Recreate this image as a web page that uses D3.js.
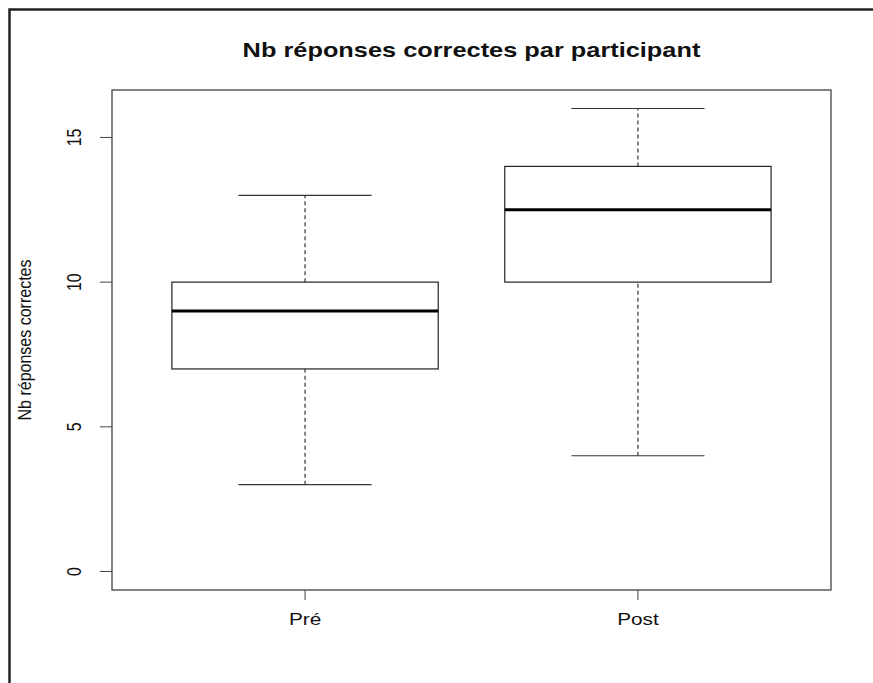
<!DOCTYPE html>
<html>
<head>
<meta charset="utf-8">
<script src="https://cdn.jsdelivr.net/npm/d3@7"></script>
<style>
  body { margin: 0; background: #fff; overflow: hidden; }
  svg { display: block; }
  text { font-family: "Liberation Sans", Arial, sans-serif; fill: #111; }
</style>
</head>
<body>
<svg id="chart"></svg>
<script>
let W = 873, H = 683;

// box stats
let groups = ["Pré", "Post"];
let lowWhisker = [3, 4];
let q1 = [7, 10];
let median = [9, 12.5];
let q3 = [10, 14];
let highWhisker = [13, 16];
let yTicks = [0, 5, 10, 15];

let title = "Nb réponses correctes par participant";
let yLabel = "Nb réponses correctes";

// text in the picture is stretched sideways
let sx = 1.3;

let svg = d3.select("#chart")
  .attr("width", W)
  .attr("height", H);

// plot region
let plotLeft = 112, plotRight = 831, plotTop = 90, plotBottom = 590;

let xscale = d3.scaleLinear()
  .domain([0.42, 2.58])
  .range([plotLeft, plotRight]);
let yscale = d3.scaleLinear()
  .domain([-0.64, 16.64])
  .range([plotBottom, plotTop]);

// outer frame, open at right and bottom
svg.append("path")
  .attr("d", `M9.5,${H} L9.5,9.5 L${W},9.5`)
  .attr("fill", "none")
  .attr("stroke", "#222")
  .attr("stroke-width", 2.5);

svg.append("rect")
  .attr("x", plotLeft).attr("y", plotTop)
  .attr("width", plotRight - plotLeft).attr("height", plotBottom - plotTop)
  .attr("fill", "none")
  .attr("stroke", "#333")
  .attr("stroke-width", 1.2);

let g = svg.append("g");
let ink = "#222";
groups.forEach((name, i) => {
  let cx = xscale(i + 1);
  let hw = xscale(i + 1.4) - cx;
  let cw = xscale(i + 1.2) - cx;
  // whiskers
  [[lowWhisker[i], q1[i]], [q3[i], highWhisker[i]]].forEach(([a, b]) => {
    g.append("line")
      .attr("x1", cx).attr("x2", cx)
      .attr("y1", yscale(a)).attr("y2", yscale(b))
      .attr("stroke", "#333").attr("stroke-width", 1.2)
      .attr("stroke-dasharray", "4,3");
  });
  [lowWhisker[i], highWhisker[i]].forEach(v => {
    g.append("line")
      .attr("x1", cx - cw).attr("x2", cx + cw)
      .attr("y1", yscale(v)).attr("y2", yscale(v))
      .attr("stroke", "#333").attr("stroke-width", 1.2);
  });
  g.append("rect")
    .attr("x", cx - hw).attr("y", yscale(q3[i]))
    .attr("width", 2 * hw).attr("height", yscale(q1[i]) - yscale(q3[i]))
    .attr("fill", "none").attr("stroke", ink).attr("stroke-width", 1.2);
  g.append("line")
    .attr("x1", cx - hw).attr("x2", cx + hw)
    .attr("y1", yscale(median[i])).attr("y2", yscale(median[i]))
    .attr("stroke", "#000").attr("stroke-width", 3);
});

// x axis: ticks and labels only
let xAxis = svg.append("g");
groups.forEach((name, i) => {
  let x = xscale(i + 1);
  xAxis.append("line")
    .attr("x1", x).attr("x2", x).attr("y1", plotBottom).attr("y2", plotBottom + 10)
    .attr("stroke", "#444");
  xAxis.append("text")
    .attr("transform", `translate(${x},625) scale(${sx},1)`)
    .attr("text-anchor", "middle")
    .attr("font-size", 16)
    .text(name);
});

let yAxis = svg.append("g");
yTicks.forEach(v => {
  let y = yscale(v);
  yAxis.append("line")
    .attr("x1", plotLeft - 12).attr("x2", plotLeft).attr("y1", y).attr("y2", y)
    .attr("stroke", "#444");
  yAxis.append("text")
    .attr("transform", `translate(81,${y}) scale(${sx},1) rotate(-90)`)
    .attr("text-anchor", "middle")
    .attr("font-size", 16)
    .text(v);
});

svg.append("text")
  .attr("transform", `translate(31,${(plotTop + plotBottom) / 2}) scale(${sx * 0.85},1) rotate(-90)`)
  .attr("text-anchor", "middle")
  .attr("font-size", 16)
  .text(yLabel);

svg.append("text")
  .attr("transform", `translate(${(plotLeft + plotRight) / 2},57) scale(${sx},1)`)
  .attr("text-anchor", "middle")
  .attr("font-size", 19.5)
  .attr("font-weight", "bold")
  .text(title);
</script>
</body>
</html>
